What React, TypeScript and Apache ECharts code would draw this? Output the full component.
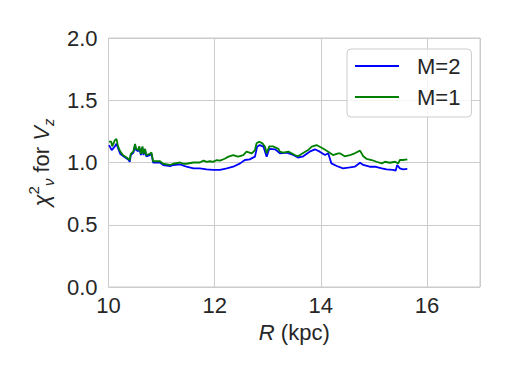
import React, { useEffect, useRef } from "react";
import * as echarts from "echarts";

const seriesNames = ["M=2", "M=1"];

const radiusM2 = [10.01, 10.06, 10.12, 10.15, 10.22, 10.28, 10.37, 10.40, 10.42, 10.47, 10.50, 10.52, 10.56, 10.58, 10.61, 10.64, 10.66, 10.69, 10.71, 10.78, 10.81, 10.84, 10.91, 10.97, 11.03, 11.10, 11.16, 11.22, 11.35, 11.47, 11.60, 11.72, 11.85, 11.97, 12.04, 12.10, 12.23, 12.35, 12.48, 12.57, 12.66, 12.76, 12.80, 12.85, 12.92, 12.98, 13.03, 13.14, 13.23, 13.36, 13.48, 13.57, 13.67, 13.79, 13.89, 13.98, 14.08, 14.14, 14.20, 14.30, 14.42, 14.55, 14.64, 14.74, 14.80, 14.92, 15.02, 15.15, 15.24, 15.36, 15.41, 15.44, 15.49, 15.55, 15.63];
const chiM2 = [1.14, 1.10, 1.13, 1.15, 1.07, 1.05, 1.025, 1.005, 1.06, 1.08, 1.14, 1.10, 1.09, 1.12, 1.06, 1.12, 1.06, 1.10, 1.05, 1.06, 1.07, 1.0, 1.0, 1.0, 0.98, 0.975, 0.97, 0.98, 0.985, 0.966, 0.953, 0.953, 0.945, 0.94, 0.94, 0.94, 0.953, 0.966, 0.993, 1.02, 1.025, 1.047, 1.127, 1.14, 1.127, 1.047, 1.11, 1.106, 1.074, 1.08, 1.06, 1.04, 1.05, 1.087, 1.106, 1.087, 1.06, 1.074, 0.993, 0.972, 0.953, 0.96, 0.966, 0.998, 0.98, 0.966, 0.966, 0.953, 0.945, 0.94, 0.934, 0.98, 0.953, 0.945, 0.948];

const radiusM1 = [10.01, 10.05, 10.07, 10.12, 10.15, 10.18, 10.22, 10.27, 10.34, 10.40, 10.42, 10.47, 10.50, 10.52, 10.56, 10.58, 10.61, 10.64, 10.66, 10.69, 10.71, 10.78, 10.81, 10.84, 10.91, 10.97, 11.03, 11.10, 11.16, 11.22, 11.35, 11.41, 11.47, 11.60, 11.72, 11.79, 11.85, 11.91, 11.97, 12.04, 12.10, 12.19, 12.26, 12.35, 12.44, 12.54, 12.60, 12.70, 12.76, 12.79, 12.84, 12.90, 12.95, 12.98, 13.03, 13.10, 13.20, 13.23, 13.29, 13.39, 13.45, 13.51, 13.57, 13.66, 13.76, 13.83, 13.92, 13.98, 14.05, 14.14, 14.23, 14.33, 14.36, 14.45, 14.55, 14.64, 14.74, 14.80, 14.86, 14.96, 15.05, 15.15, 15.21, 15.30, 15.40, 15.46, 15.49, 15.55, 15.63];
const chiM1 = [1.167, 1.167, 1.13, 1.18, 1.19, 1.13, 1.09, 1.06, 1.04, 1.02, 1.07, 1.09, 1.15, 1.11, 1.10, 1.13, 1.07, 1.13, 1.07, 1.11, 1.06, 1.07, 1.08, 1.01, 1.01, 1.01, 0.99, 0.985, 0.98, 0.99, 1.0, 0.99, 0.99, 1.0, 1.0, 1.015, 1.005, 1.01, 1.005, 1.02, 1.015, 1.03, 1.047, 1.06, 1.047, 1.06, 1.087, 1.074, 1.1, 1.154, 1.167, 1.154, 1.127, 1.074, 1.13, 1.13, 1.11, 1.087, 1.08, 1.087, 1.074, 1.06, 1.05, 1.074, 1.1, 1.127, 1.14, 1.127, 1.11, 1.087, 1.06, 1.074, 1.074, 1.05, 1.06, 1.074, 1.095, 1.05, 1.03, 1.02, 1.006, 0.993, 1.006, 0.998, 1.006, 0.993, 1.02, 1.02, 1.025];

const xTicks = [10, 12, 14, 16];
const yTicks = [0.0, 0.5, 1.0, 1.5, 2.0];

const FONT = "'Liberation Sans', Arial, sans-serif";
const TEXT = "#262626";
const GRID = "#cccccc";
const FS = 22;

export default function App() {
  const ref = useRef<HTMLDivElement>(null);
  useEffect(() => {
    if (!ref.current) return;
    const chart = echarts.init(ref.current, null, { renderer: "svg" });
    chart.setOption({
      animation: false,
      backgroundColor: "#ffffff",
      textStyle: { fontFamily: FONT, color: TEXT },
      grid: {
        left: 108.5,
        right: 29,
        top: 38,
        bottom: 90,
        show: true,
        borderColor: GRID,
        borderWidth: 1,
      },
      legend: {
        orient: "vertical",
        left: 347,
        top: 49,
        padding: [6, 11, 9, 8],
        backgroundColor: "rgba(255,255,255,0.8)",
        borderColor: GRID,
        borderWidth: 1,
        borderRadius: 4,
        itemWidth: 44,
        itemHeight: 2,
        itemGap: 9,
        icon: "rect",
        textStyle: {
          fontFamily: FONT,
          fontSize: FS,
          color: TEXT,
          lineHeight: 22,
          padding: [0, 0, 0, 13],
        },
        data: seriesNames,
      },
      xAxis: {
        type: "value",
        min: 10,
        max: 17,
        interval: 2,
        name: "{i|R} (kpc)",
        nameLocation: "middle",
        nameGap: 34,
        nameTextStyle: {
          fontFamily: FONT,
          fontSize: FS,
          color: TEXT,
          rich: {
            i: { fontFamily: FONT, fontSize: FS, fontStyle: "italic", color: TEXT },
          },
        },
        axisLine: { show: false },
        axisTick: { show: false },
        splitLine: { show: true, lineStyle: { color: GRID, width: 1 } },
        axisLabel: {
          fontFamily: FONT,
          fontSize: FS,
          color: TEXT,
          margin: 7,
          formatter: (v: number) => (xTicks.includes(v) ? String(v) : ""),
        },
      },
      yAxis: {
        type: "value",
        min: 0,
        max: 2,
        interval: 0.5,
        name: "{i|χ}{sup|2}{sub|ν} for {i|V}{sub|z}",
        nameLocation: "middle",
        nameRotate: 90,
        nameGap: 50,
        nameTextStyle: {
          fontFamily: FONT,
          fontSize: FS,
          color: TEXT,
          rich: {
            i: { fontFamily: FONT, fontSize: FS, fontStyle: "italic", color: TEXT, lineHeight: 30 },
            sup: { fontFamily: FONT, fontSize: 15, color: TEXT, verticalAlign: "top", lineHeight: 15 },
            sub: { fontFamily: FONT, fontSize: 15, fontStyle: "italic", color: TEXT, verticalAlign: "bottom", lineHeight: 15 },
          },
        },
        axisLine: { show: false },
        axisTick: { show: false },
        splitLine: { show: true, lineStyle: { color: GRID, width: 1 } },
        axisLabel: {
          fontFamily: FONT,
          fontSize: FS,
          color: TEXT,
          margin: 11,
          formatter: (v: number) => (yTicks.includes(v) ? v.toFixed(1) : ""),
        },
      },
      series: [
        {
          name: seriesNames[0],
          type: "line",
          data: radiusM2.map((r, i) => [r, chiM2[i]]),
          showSymbol: false,
          symbol: "none",
          color: "#0000ff",
          lineStyle: { color: "#0000ff", width: 1.8 },
          z: 2,
        },
        {
          name: seriesNames[1],
          type: "line",
          data: radiusM1.map((r, i) => [r, chiM1[i]]),
          showSymbol: false,
          symbol: "none",
          color: "#008000",
          lineStyle: { color: "#008000", width: 1.8 },
          z: 3,
        },
      ],
    });
    return () => chart.dispose();
  }, []);
  return <div ref={ref} style={{ width: 509, height: 377, position: "absolute", left: 0, top: 0 }} />;
}
